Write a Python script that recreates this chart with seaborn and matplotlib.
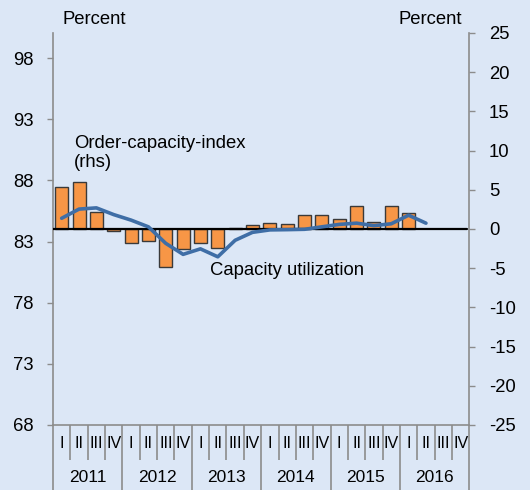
import numpy as np
import pandas as pd
import seaborn as sns
import matplotlib.pyplot as plt

# quarterly data, 2011 Q1 onwards
years = ["2011", "2012", "2013", "2014", "2015", "2016"]
quarters = ["I", "II", "III", "IV"]
order_capacity = [5.3, 6.0, 2.2, -0.2, -1.8, -1.5, -4.9, -2.6, -1.8, -2.4, 0.1,
                  0.5, 0.8, 0.6, 1.8, 1.75, 1.3, 2.9, 0.85, 2.9, 2.0]
capacity_util = [84.9, 85.65, 85.75, 85.2, 84.75, 84.2, 82.85, 81.95, 82.4, 81.75, 83.1,
                 83.75, 83.95, 83.97, 84.0, 84.2, 84.4, 84.5, 84.3, 84.45, 85.15, 84.5]

bars = pd.DataFrame({"slot": np.arange(len(order_capacity)), "value": order_capacity})
line = pd.DataFrame({"slot": np.arange(len(capacity_util)), "value": capacity_util})

sns.set_style("white")
plt.rcParams["font.family"] = ["Liberation Sans", "DejaVu Sans"]
plt.rcParams["axes.unicode_minus"] = False
plt.rcParams["text.color"] = "black"
bg = "#dce7f6"
grey = "#8c8c8c"

fig = plt.figure(figsize=(5.3, 4.9), dpi=100, facecolor=bg)
fig.subplots_adjust(left=0.1, right=0.8855, top=0.9327, bottom=0.1327)
ax = fig.add_subplot(111)
ax.set_facecolor(bg)
ax2 = ax.twinx()

# bars on the right-hand scale
sns.barplot(data=bars, x="slot", y="value", native_scale=True, width=0.75,
            color="#f79646", saturation=1, edgecolor="#3a3a3a", linewidth=1, ax=ax)
ax.axhline(0, color="black", lw=1.6, xmax=0.995, zorder=3)
ax.set_ylim(-25, 25)
ax.set_yticks(range(-25, 26, 5))
ax.yaxis.tick_right()

# capacity utilization on the left-hand scale
sns.lineplot(data=line, x="slot", y="value", color="#3f6ea6", lw=2.6, ax=ax2)
ax2.set_ylim(68, 100.05)
ax2.set_yticks(range(68, 99, 5))
ax2.yaxis.tick_left()

for a in (ax, ax2):
    a.set_xlim(-0.5, 23.5)
    a.set_xlabel("")
    a.set_ylabel("")
    a.tick_params(axis="y", labelsize=13.3, length=4, width=1, color=grey, pad=10,
                  direction="out", labelcolor="black")
for s in ax2.spines.values():
    s.set_visible(False)
ax.spines["top"].set_visible(False)
for s in ("left", "right", "bottom"):
    ax.spines[s].set_color(grey)
    ax.spines[s].set_linewidth(1.2)

# quarter / year separators below the axis
ax.set_xticks(np.arange(-0.5, 24, 4))
ax.set_xticks(np.arange(-0.5, 24, 1), minor=True)
ax.set_xticklabels([])
ax.tick_params(axis="x", which="both", bottom=True, top=False, direction="out", color=grey)
ax.tick_params(axis="x", which="major", length=47, width=1.2)
ax.tick_params(axis="x", which="minor", length=25, width=1.2)

tr = ax.get_xaxis_transform()
for i in range(24):
    ax.text(i, -0.047, quarters[i % 4], transform=tr, ha="center", va="center", fontsize=11.5)
for k, yr in enumerate(years):
    ax.text(4 * k + 1.5, -0.135, yr, transform=tr, ha="center", va="center", fontsize=12.5)

ax.text(0.05, 0.694, "Order-capacity-index\n(rhs)", transform=ax.transAxes, fontsize=13.3,
        ha="left", va="center", linespacing=1.1)
ax.text(0.378, 0.395, "Capacity utilization", transform=ax.transAxes, fontsize=13.3,
        ha="left", va="center")

fig.text(62 / 530, 1 - 20 / 490, "Percent", fontsize=13.3, va="center")
fig.text(398 / 530, 1 - 20 / 490, "Percent", fontsize=13.3, va="center")

fig.savefig("out.png", dpi=100, facecolor=bg)
